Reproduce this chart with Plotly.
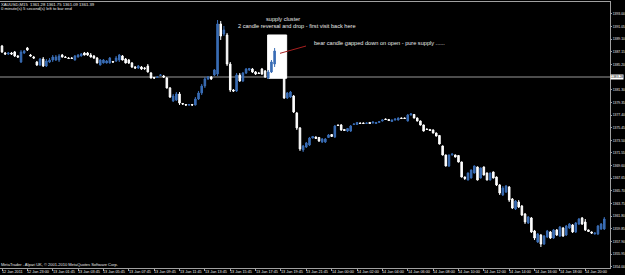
import plotly.graph_objects as go

# ---------------- data (XAUUSD, M15) ----------------
opens = [
    1388.06, 1386.98, 1386.83, 1386.98, 1387.14, 1386.52, 1385.59, 1386.98, 1387.75, 1386.67,
    1386.36, 1385.59, 1385.13, 1386.05, 1384.97, 1385.59, 1385.90, 1385.90, 1385.90, 1386.67,
    1386.36, 1386.21, 1386.21, 1385.90, 1386.36, 1386.52, 1386.98, 1386.98, 1386.67, 1386.52,
    1386.21, 1385.13, 1385.44, 1385.44, 1385.44, 1385.67, 1385.75, 1385.90, 1386.52, 1386.05,
    1385.90, 1385.44, 1384.82, 1384.67, 1384.82, 1384.67, 1384.97, 1383.89, 1383.20, 1383.20,
    1383.51, 1383.43, 1383.12, 1381.58, 1379.57, 1379.73, 1380.65, 1379.19, 1379.03, 1378.96,
    1379.03, 1378.96, 1379.88, 1380.81, 1381.89, 1382.97, 1383.28, 1383.59, 1383.74, 1391.46,
    1389.91, 1389.76, 1385.28, 1381.27, 1381.12, 1383.59, 1382.66, 1383.89, 1384.36, 1384.51,
    1384.05, 1383.89, 1384.51, 1384.20, 1383.12, 1384.05, 1385.28, 1386.98, 1384.05, 1383.43,
    1380.04, 1380.19, 1380.34, 1377.72, 1375.41, 1372.01, 1372.47, 1372.78, 1373.86, 1374.02,
    1373.94, 1373.25, 1373.25, 1373.94, 1374.40, 1374.02, 1375.87, 1375.87, 1375.18, 1374.94,
    1374.94, 1375.94, 1375.94, 1376.18, 1376.18, 1376.10, 1376.26, 1376.18, 1376.10, 1376.26,
    1376.49, 1376.79, 1376.72, 1376.41, 1376.64, 1376.64, 1376.95, 1376.95, 1376.49, 1377.41,
    1377.49, 1376.95, 1376.49, 1375.87, 1375.25, 1375.18, 1375.10, 1374.63, 1374.25, 1372.63,
    1371.24, 1369.54, 1371.24, 1371.24, 1371.16, 1370.16, 1367.84, 1367.38, 1367.69, 1368.46,
    1369.39, 1367.69, 1369.39, 1368.46, 1367.38, 1368.62, 1367.84, 1366.61, 1365.07, 1365.53,
    1366.30, 1364.45, 1362.90, 1363.99, 1363.37, 1362.13, 1360.74, 1361.52, 1359.51, 1357.81,
    1358.89, 1357.50, 1358.59, 1359.36, 1358.43, 1359.67, 1358.74, 1359.97, 1358.89, 1359.97,
    1360.44, 1359.36, 1360.59, 1361.52, 1360.90, 1359.67, 1359.36, 1359.05, 1359.05, 1359.82,
    1359.82,
]
highs = [
    1388.22, 1387.14, 1387.14, 1387.14, 1387.29, 1386.67, 1387.44, 1387.44, 1387.91, 1386.83,
    1386.52, 1385.75, 1386.21, 1386.36, 1386.05, 1386.21, 1386.67, 1386.67, 1386.83, 1386.83,
    1386.52, 1386.36, 1386.36, 1386.67, 1386.83, 1386.98, 1387.14, 1387.14, 1386.98, 1386.67,
    1386.36, 1386.05, 1386.05, 1385.90, 1386.36, 1385.75, 1386.52, 1386.83, 1386.67, 1386.21,
    1386.05, 1385.59, 1384.97, 1385.13, 1384.97, 1384.82, 1385.28, 1384.05, 1383.28, 1383.43,
    1383.74, 1383.59, 1383.28, 1381.73, 1380.65, 1380.96, 1380.96, 1379.26, 1379.11, 1379.11,
    1379.11, 1380.19, 1381.12, 1382.20, 1383.28, 1383.43, 1383.43, 1384.51, 1392.07, 1391.92,
    1391.15, 1390.07, 1385.59, 1381.42, 1383.89, 1383.89, 1384.05, 1384.67, 1384.67, 1384.67,
    1384.20, 1384.05, 1384.67, 1384.36, 1384.36, 1385.90, 1387.75, 1387.29, 1384.20, 1383.74,
    1380.96, 1381.12, 1380.50, 1377.88, 1375.56, 1372.78, 1373.25, 1374.02, 1374.17, 1374.10,
    1374.02, 1373.86, 1373.86, 1374.48, 1374.48, 1375.87, 1375.94, 1376.02, 1375.25, 1375.41,
    1375.87, 1376.10, 1376.33, 1376.26, 1376.26, 1376.26, 1376.33, 1376.41, 1376.33, 1376.49,
    1376.72, 1376.87, 1376.79, 1376.72, 1376.87, 1377.03, 1377.03, 1377.03, 1377.57, 1377.72,
    1377.57, 1377.03, 1376.56, 1375.94, 1375.33, 1375.25, 1375.18, 1374.71, 1374.33, 1372.71,
    1371.31, 1371.31, 1371.47, 1371.31, 1371.24, 1370.23, 1367.92, 1368.54, 1369.00, 1369.62,
    1369.47, 1369.31, 1369.47, 1368.54, 1368.54, 1368.69, 1367.92, 1366.76, 1366.45, 1366.61,
    1366.45, 1364.60, 1364.29, 1364.29, 1363.52, 1362.29, 1361.82, 1361.67, 1359.67, 1359.20,
    1359.05, 1358.89, 1359.67, 1359.51, 1359.82, 1359.82, 1360.28, 1360.13, 1360.44, 1360.74,
    1360.59, 1360.90, 1361.52, 1361.67, 1361.36, 1359.74, 1359.44, 1359.28, 1360.44, 1360.74,
    1361.67,
]
lows = [
    1386.98, 1386.67, 1386.67, 1386.67, 1386.36, 1386.21, 1385.44, 1386.83, 1387.29, 1386.44,
    1386.05, 1384.97, 1384.97, 1384.82, 1384.82, 1385.44, 1385.59, 1385.75, 1385.59, 1386.29,
    1386.21, 1386.05, 1386.05, 1385.82, 1386.29, 1386.44, 1386.60, 1386.52, 1386.29, 1386.05,
    1385.36, 1385.05, 1385.36, 1385.36, 1385.36, 1385.44, 1385.59, 1385.59, 1385.82, 1385.36,
    1385.28, 1384.67, 1384.51, 1384.51, 1384.36, 1384.36, 1383.97, 1383.05, 1382.97, 1383.12,
    1383.43, 1383.12, 1381.50, 1380.04, 1379.42, 1379.57, 1378.96, 1378.96, 1378.80, 1378.80,
    1378.80, 1378.88, 1379.73, 1380.50, 1381.58, 1382.81, 1382.81, 1383.43, 1383.43, 1388.99,
    1389.60, 1384.97, 1380.96, 1380.96, 1380.96, 1382.51, 1382.51, 1383.74, 1384.20, 1383.89,
    1383.59, 1383.74, 1383.59, 1383.12, 1382.97, 1383.89, 1384.82, 1383.74, 1383.59, 1379.88,
    1379.88, 1380.04, 1377.72, 1375.10, 1371.86, 1371.70, 1372.32, 1372.63, 1373.79, 1373.71,
    1373.25, 1373.09, 1373.09, 1373.86, 1374.02, 1373.86, 1375.71, 1374.94, 1374.94, 1374.79,
    1374.79, 1375.87, 1375.87, 1376.02, 1376.02, 1376.02, 1376.02, 1376.10, 1376.02, 1376.18,
    1376.41, 1376.64, 1376.49, 1376.33, 1376.56, 1376.56, 1376.79, 1376.79, 1376.41, 1377.33,
    1376.87, 1376.41, 1375.79, 1374.86, 1375.10, 1374.94, 1374.56, 1374.10, 1372.86, 1371.16,
    1369.47, 1369.39, 1371.16, 1370.85, 1370.08, 1367.77, 1367.38, 1367.31, 1367.61, 1368.38,
    1367.31, 1367.61, 1368.08, 1367.31, 1367.31, 1367.61, 1366.45, 1365.07, 1364.91, 1365.37,
    1363.99, 1362.90, 1362.75, 1363.06, 1361.82, 1360.59, 1360.59, 1359.20, 1358.12, 1357.66,
    1357.04, 1357.35, 1358.43, 1358.28, 1358.28, 1358.74, 1358.59, 1358.59, 1358.74, 1359.82,
    1359.20, 1359.20, 1360.44, 1360.44, 1359.51, 1359.36, 1359.05, 1358.97, 1358.89, 1359.67,
    1359.67,
]
closes = [
    1387.14, 1386.83, 1386.98, 1386.83, 1386.52, 1386.36, 1387.14, 1387.29, 1387.44, 1386.52,
    1386.21, 1385.13, 1386.05, 1384.97, 1385.75, 1385.90, 1386.36, 1386.36, 1386.52, 1386.36,
    1386.29, 1386.13, 1386.13, 1386.52, 1386.67, 1386.83, 1386.67, 1386.67, 1386.36, 1386.21,
    1385.44, 1385.90, 1385.90, 1385.75, 1386.21, 1385.59, 1386.21, 1386.67, 1385.90, 1385.44,
    1385.44, 1384.82, 1384.67, 1384.97, 1384.51, 1384.59, 1384.05, 1383.12, 1383.12, 1383.28,
    1383.59, 1383.28, 1381.58, 1380.19, 1380.34, 1380.65, 1379.26, 1379.11, 1378.96, 1379.03,
    1378.96, 1379.88, 1380.81, 1381.89, 1382.97, 1383.28, 1382.97, 1384.36, 1391.46, 1389.60,
    1390.53, 1385.28, 1381.27, 1381.12, 1383.59, 1382.66, 1383.89, 1384.51, 1384.59, 1384.05,
    1383.74, 1383.82, 1383.74, 1383.28, 1384.05, 1385.59, 1387.29, 1384.05, 1383.74, 1380.04,
    1380.81, 1380.96, 1377.88, 1375.41, 1372.17, 1372.63, 1373.09, 1373.86, 1374.10, 1373.79,
    1373.40, 1373.71, 1373.71, 1374.33, 1374.10, 1375.71, 1375.79, 1375.10, 1375.02, 1375.33,
    1375.71, 1376.02, 1376.26, 1376.10, 1376.10, 1376.18, 1376.10, 1376.33, 1376.26, 1376.41,
    1376.64, 1376.72, 1376.56, 1376.64, 1376.79, 1376.95, 1376.87, 1376.87, 1377.41, 1377.57,
    1376.95, 1376.49, 1375.87, 1374.94, 1375.18, 1375.02, 1374.63, 1374.17, 1372.94, 1371.24,
    1369.54, 1371.24, 1371.39, 1370.93, 1370.16, 1367.84, 1367.61, 1368.46, 1368.92, 1369.54,
    1367.38, 1369.23, 1368.15, 1367.38, 1368.46, 1367.69, 1366.61, 1365.37, 1366.15, 1366.45,
    1364.29, 1363.06, 1364.14, 1363.21, 1361.98, 1360.90, 1361.67, 1359.36, 1358.43, 1359.05,
    1357.50, 1358.74, 1359.51, 1358.43, 1359.67, 1358.89, 1360.13, 1358.74, 1360.28, 1360.59,
    1359.36, 1360.74, 1361.36, 1360.59, 1359.67, 1359.44, 1359.20, 1359.20, 1360.28, 1360.59,
    1361.36,
]
bar_index = list(range(len(opens)))

x_tick_labels = [
    "12 Jan 2011", "12 Jan 23:00", "13 Jan 01:45", "13 Jan 03:45", "13 Jan 05:45",
    "13 Jan 07:45", "13 Jan 09:45", "13 Jan 11:45", "13 Jan 13:45", "13 Jan 15:45",
    "13 Jan 17:45", "13 Jan 19:45", "13 Jan 21:45", "14 Jan 00:00", "14 Jan 02:00",
    "14 Jan 04:00", "14 Jan 06:00", "14 Jan 08:00", "14 Jan 10:00", "14 Jan 12:00",
    "14 Jan 14:00", "14 Jan 16:00", "14 Jan 18:00", "14 Jan 20:00",
]
bars_per_label = 8

# price scale labels (the 1383.25 one is hidden under the level's price tag)
y_tick_labels = [
    "1354.00", "1355.95", "1357.90", "1359.85", "1361.80", "1363.75", "1365.70",
    "1367.65", "1369.60", "1371.55", "1373.50", "1375.45", "1377.40", "1379.35",
    "1381.30", "1385.20", "1387.15", "1389.10", "1391.05", "1393.00",
]

level_price = 1383.28
level_label = "1383.28"

header_line1 = "XAUUSD,M15  1361.28 1361.75 1361.09 1361.39"
header_line2 = "0 minute(s) 5 second(s) left to bar end"
footer_text = "MetaTrader - Alpari UK, \u00a9 2001-2010 MetaQuotes Software Corp."

note_title = "supply cluster"
note_sub = "2 candle reversal and drop - first visit back here"
note_bear = "bear candle gapped down on open - pure supply ......"

# ---------------- styling ----------------
BLUE = "#3a6db5"
AXIS = "#a0a0a0"
TXT = "#e8e8e8"
FONT = "Liberation Sans, Arial, sans-serif"

fig = go.Figure(
    go.Candlestick(
        x=bar_index, open=opens, high=highs, low=lows, close=closes,
        increasing=dict(line=dict(color=BLUE, width=1), fillcolor=BLUE),
        decreasing=dict(line=dict(color="#ffffff", width=1), fillcolor="#ffffff"),
        whiskerwidth=0, hoverinfo="skip", showlegend=False,
    )
)

y_vals = [float(s) for s in y_tick_labels]
x_vals = [i * bars_per_label for i in range(len(x_tick_labels))]

fig.update_layout(
    width=625, height=275,
    paper_bgcolor="black", plot_bgcolor="black",
    margin=dict(l=0, r=15, t=2, b=7, pad=0, autoexpand=False),
    showlegend=False,
    xaxis=dict(
        range=[-0.63, 191.8], rangeslider=dict(visible=False),
        showgrid=False, zeroline=False, showline=True, linecolor=AXIS, linewidth=1,
        mirror=True, ticks="outside", ticklen=2, tickcolor=AXIS, tickwidth=1,
        tickvals=x_vals, showticklabels=False,
    ),
    yaxis=dict(
        range=[1353.80, 1394.85], side="right",
        showgrid=False, zeroline=False, showline=True, linecolor=AXIS, linewidth=1,
        ticks="outside", ticklen=1, tickcolor=AXIS, tickwidth=1,
        ticklabelstandoff=0,
        tickvals=y_vals, ticktext=y_tick_labels,
        tickfont=dict(size=3.4, color=TXT, family=FONT),
    ),
)

shapes = [
    # white rectangle around the supply cluster
    dict(type="rect", xref="x", yref="y", x0=83.8, x1=89.8, y0=1383.08, y1=1389.76,
         fillcolor="#ffffff", line=dict(color="#ffffff", width=1), layer="below"),
    # horizontal level
    dict(type="line", xref="paper", yref="y", x0=0, x1=1, y0=level_price, y1=level_price,
         line=dict(color="#666666", width=1.5), layer="below"),
    # red pointer line
    dict(type="line", xref="x", yref="y", x0=87.7, y0=1386.93, x1=95.9, y1=1388.06,
         line=dict(color="#a82020", width=1)),
]

annotations = []
for xv, lab in zip(x_vals, x_tick_labels):
    annotations.append(dict(
        x=xv, y=0, xref="x", yref="paper", xanchor="left", yanchor="top",
        text=lab, showarrow=False, font=dict(size=3.8, color=TXT, family=FONT),
        xshift=-1, yshift=-1, borderpad=0,
    ))

annotations += [
    dict(x=1, y=level_price, xref="paper", yref="y", xanchor="left", yanchor="middle",
         text=level_label, showarrow=False, bgcolor="#ffffff", borderpad=0, xshift=0,
         font=dict(size=3.4, color="#000000", family=FONT)),
    dict(x=0, y=0.99, xref="paper", yref="paper", xanchor="left", yanchor="middle",
         text=header_line1, showarrow=False, xshift=0, borderpad=0,
         font=dict(size=4.2, color=TXT, family=FONT)),
    dict(x=0, y=0.975, xref="paper", yref="paper", xanchor="left", yanchor="middle",
         text=header_line2, showarrow=False, xshift=0, borderpad=0,
         font=dict(size=4.2, color=TXT, family=FONT)),
    dict(x=0, y=0.015, xref="paper", yref="paper", xanchor="left", yanchor="middle",
         text=footer_text, showarrow=False, xshift=0, borderpad=0,
         font=dict(size=4.0, color=TXT, family=FONT)),
    dict(x=88.6, y=1392.23, xref="x", yref="y", xanchor="center", yanchor="middle",
         text=note_title, showarrow=False, borderpad=0,
         font=dict(size=5.6, color=TXT, family=FONT)),
    dict(x=93.0, y=1391.20, xref="x", yref="y", xanchor="center", yanchor="middle",
         text=note_sub, showarrow=False, borderpad=0,
         font=dict(size=5.6, color=TXT, family=FONT)),
    dict(x=98.1, y=1388.53, xref="x", yref="y", xanchor="left", yanchor="middle",
         text=note_bear, showarrow=False, borderpad=0,
         font=dict(size=5.6, color=TXT, family=FONT)),
]

fig.update_layout(shapes=shapes, annotations=annotations)
fig.write_html("out.html")
